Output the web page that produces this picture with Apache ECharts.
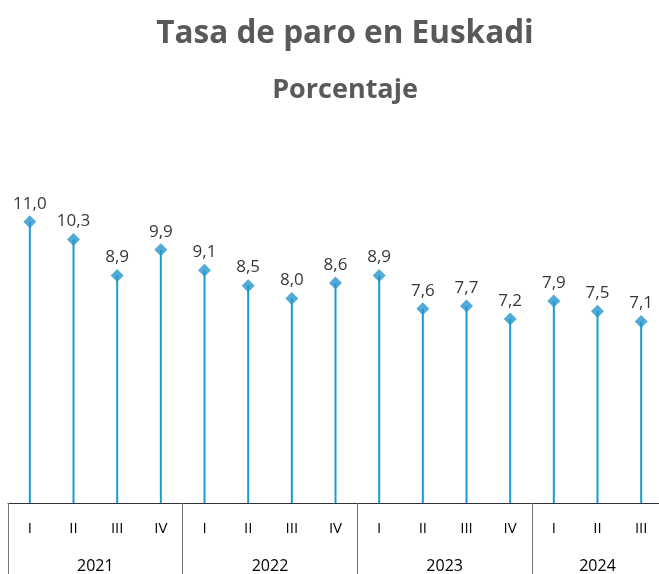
<!DOCTYPE html>
<html>
<head>
<meta charset="utf-8">
<script src="https://cdn.jsdelivr.net/npm/echarts@6/dist/echarts.min.js"></script>
<style>
	html, body { margin: 0; padding: 0; background: #fff; }
	#paroChart { width: 659px; height: 574px; }
</style>
</head>
<body>
<div id="paroChart"></div>
<script>
// datos
var trimestres = ['I', 'II', 'III', 'IV', 'I', 'II', 'III', 'IV', 'I', 'II', 'III', 'IV', 'I', 'II', 'III'];
var tasaParo = [11.0, 10.3, 8.9, 9.9, 9.1, 8.5, 8.0, 8.6, 8.9, 7.6, 7.7, 7.2, 7.9, 7.5, 7.1];
var anios = ['2021', '2022', '2023', '2024'];
var limitesAnio = [0, 4, 8, 12, 15];
var centrosAnio = [2, 6, 10, 13.5];

var paroChart = echarts.init(document.getElementById('paroChart'));
var azul = '#1b9bd3';
var fuente = '"Open Sans", "Liberation Sans", sans-serif';

var opt = {
	animation: false,
	title: [
		{
			text: 'Tasa de paro en Euskadi',
			left: 340,
			textAlign: 'center',
			top: 13,
			textStyle: { fontFamily: fuente, fontSize: 31.5, fontWeight: 'bold', color: '#595959' }
		},
		{
			text: 'Porcentaje',
			left: 340,
			textAlign: 'center',
			top: 72,
			textStyle: { fontFamily: fuente, fontSize: 27, fontWeight: 'bold', color: '#595959' }
		}
	],
	grid: { left: 8, top: 145, width: 655, bottom: 71, outerBoundsMode: 'none' },
	xAxis: [
		{
			type: 'category',
			data: trimestres,
			axisLine: { lineStyle: { color: '#333', width: 1 } },
			axisTick: { length: 38, lineStyle: { color: '#222' } },
			axisLabel: { margin: 18, fontFamily: fuente, fontSize: 15, color: '#000', interval: 0 }
		},
		{
			type: 'value',
			position: 'bottom',
			min: 0,
			max: 15,
			axisLine: { show: false },
			splitLine: { show: false },
			axisTick: { show: true, length: 71, customValues: limitesAnio, lineStyle: { color: '#777' } },
			axisLabel: {
				margin: 55,
				customValues: centrosAnio,
				fontFamily: fuente,
				fontSize: 16,
				color: '#000',
				formatter: function (v) {
					var i = centrosAnio.indexOf(v);
					return i >= 0 ? anios[i] : '';
				}
			}
		}
	],
	yAxis: {
		type: 'value',
		min: 0,
		max: 14,
		show: false
	},
	series: [
		{
			type: 'bar',
			xAxisIndex: 0,
			data: tasaParo,
			barWidth: 2,
			itemStyle: { color: azul },
			silent: true
		},
		{
			type: 'scatter',
			xAxisIndex: 0,
			data: tasaParo,
			symbol: 'diamond',
			symbolSize: [13, 13],
			itemStyle: { color: '#2596cc' },
			label: {
				show: true,
				position: 'top',
				distance: 3,
				fontFamily: fuente,
				fontSize: 17,
				color: '#000',
				formatter: function (p) {
					return p.value.toFixed(1).replace('.', ',');
				}
			}
		}
	]
};
paroChart.setOption(opt);
</script>
</body>
</html>
